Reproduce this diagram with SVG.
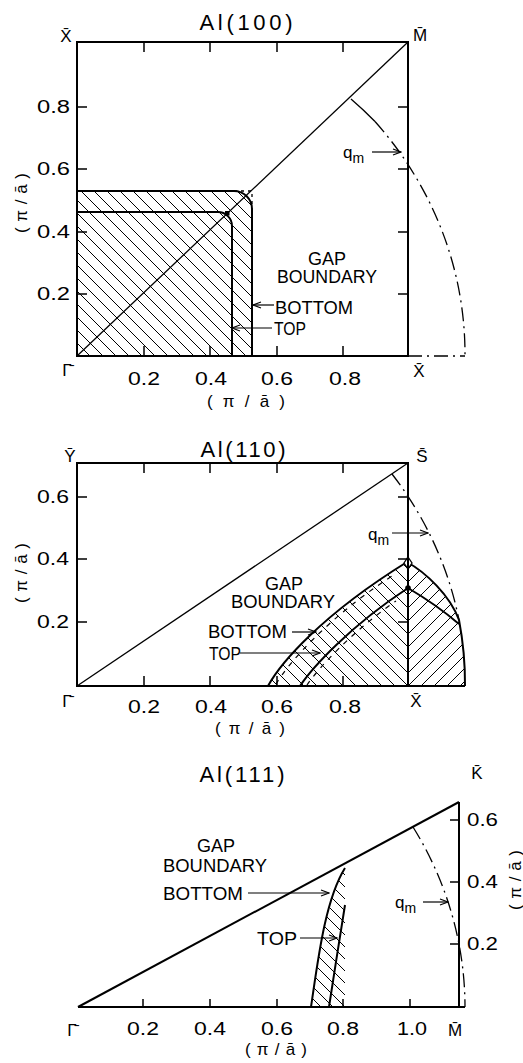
<svg xmlns="http://www.w3.org/2000/svg" width="523" height="1063" viewBox="0 0 523 1063">
<style>
text{font-family:"Liberation Sans",Arial,sans-serif;fill:#000}
.t{font-size:18px}
.n{font-size:18px}
.ax{font-size:17px}
.ttl{font-size:22px}
.pt{font-size:17px}
.fr{fill:none;stroke:#000;stroke-width:2}
.ln{fill:none;stroke:#000;stroke-width:1.3}
.bd{fill:none;stroke:#000;stroke-width:2}
.tk{fill:none;stroke:#000;stroke-width:1.5}
.dd{fill:none;stroke:#000;stroke-width:1.3;stroke-dasharray:14 5 2 5}
.ds{fill:none;stroke:#000;stroke-width:1.3;stroke-dasharray:3 4}
.dt{fill:none;stroke:#000;stroke-width:1.2;stroke-dasharray:5 6}
.ar{fill:none;stroke:#000;stroke-width:1.2;marker-end:url(#ah)}
</style>
<defs>
<marker id="ah" markerWidth="10" markerHeight="8" refX="9" refY="4" orient="auto" markerUnits="userSpaceOnUse"><path d="M1,1 L9,4 L1,7" fill="none" stroke="#000" stroke-width="1.2"/></marker>
<pattern id="hb1" patternUnits="userSpaceOnUse" x="77" y="356" width="13" height="13"><path d="M-1,-1 L14,14 M-1,12 L1,14 M12,-1 L14,1" stroke="#000" stroke-width="1"/></pattern>
<pattern id="hb2" patternUnits="userSpaceOnUse" x="408" y="686" width="13" height="13"><path d="M-1,-1 L14,14 M-1,12 L1,14 M12,-1 L14,1" stroke="#000" stroke-width="1"/></pattern>
<pattern id="hf2" patternUnits="userSpaceOnUse" x="408" y="686" width="13" height="13"><path d="M-1,14 L14,-1 M-1,1 L1,-1 M12,14 L14,12" stroke="#000" stroke-width="1"/></pattern>
<pattern id="hb3" patternUnits="userSpaceOnUse" x="345" y="1007" width="12" height="12"><path d="M-1,-1 L13,13 M-1,11 L1,13 M11,-1 L13,1" stroke="#000" stroke-width="1"/></pattern>
<clipPath id="c2"><path d="M268,686 C280,664 320,616 407,562 C425,572 450,595 459,620 A388,363 0 0 1 465,686 Z"/></clipPath>
</defs>

<!-- Panel Al(100) -->
<g id="panel-100">
<text class="ttl" x="246" y="30" text-anchor="middle" textLength="93" lengthAdjust="spacing">Al(100)</text>
<path class="fr" d="M77,42 H408 V356 H77 Z"/>
<path class="tk" d="M77,107 h10 M77,169 h10 M77,232 h10 M77,294 h10 M408,107 h-10 M408,169 h-10 M408,232 h-10 M408,294 h-10 M144,42 v10 M210,42 v10 M277,42 v10 M343,42 v10 M144,356 v-10 M210,356 v-10 M277,356 v-10 M343,356 v-10"/>
<g id="hatch-100">
<path d="M77,356 V191 H234 A18,18 0 0 1 252,209 V356 Z" fill="url(#hb1)" stroke="none"/>
<path class="bd" d="M77,191 H234 A18,18 0 0 1 252,209 V356"/>
<path class="bd" d="M77,212 H218 A14,14 0 0 1 232,226 V356"/>
<path class="ds" d="M234,191 H252 V209"/>
<rect x="225" y="211" width="4.5" height="4.5" fill="#000"/>
</g>
<path class="ln" d="M77,356 L408,42"/>
<path class="ln" d="M351,99 A388,363 0 0 1 375,121.5"/>
<path class="dd" d="M375,121.5 A388,363 0 0 1 465,356"/>
<path class="dd" d="M408,356 H465"/>
<text class="pt" x="66" y="42" text-anchor="middle">X̄</text>
<text class="pt" x="420" y="41" text-anchor="middle">M̄</text>
<text class="pt" x="67" y="376" text-anchor="middle">Γ̄</text>
<text class="pt" x="419" y="377" text-anchor="middle">X̄</text>
<text class="n" x="70" y="113" text-anchor="end" textLength="33" lengthAdjust="spacingAndGlyphs">0.8</text>
<text class="n" x="70" y="175" text-anchor="end" textLength="33" lengthAdjust="spacingAndGlyphs">0.6</text>
<text class="n" x="70" y="238" text-anchor="end" textLength="33" lengthAdjust="spacingAndGlyphs">0.4</text>
<text class="n" x="70" y="300" text-anchor="end" textLength="33" lengthAdjust="spacingAndGlyphs">0.2</text>
<text class="n" x="144" y="385" text-anchor="middle" textLength="32" lengthAdjust="spacingAndGlyphs">0.2</text>
<text class="n" x="211" y="385" text-anchor="middle" textLength="32" lengthAdjust="spacingAndGlyphs">0.4</text>
<text class="n" x="277" y="385" text-anchor="middle" textLength="32" lengthAdjust="spacingAndGlyphs">0.6</text>
<text class="n" x="345" y="385" text-anchor="middle" textLength="32" lengthAdjust="spacingAndGlyphs">0.8</text>
<text class="ax" x="246" y="407" text-anchor="middle" textLength="78" lengthAdjust="spacing">(π/ā)</text>
<text class="ax" transform="translate(27,203) rotate(-90)" text-anchor="middle" textLength="60" lengthAdjust="spacing">(π/ā)</text>
<text class="t" x="327" y="265" text-anchor="middle">GAP</text>
<text class="t" x="327" y="283" text-anchor="middle" textLength="100" lengthAdjust="spacingAndGlyphs">BOUNDARY</text>
<text class="t" x="275" y="314" textLength="78" lengthAdjust="spacingAndGlyphs">BOTTOM</text>
<text class="t" x="274" y="335" textLength="32" lengthAdjust="spacingAndGlyphs">TOP</text>
<text class="pt" x="343" y="158">q<tspan font-size="14" dy="5">m</tspan></text>
</g>

<!-- Panel Al(110) -->
<g id="panel-110">
<text class="ttl" x="243" y="457" text-anchor="middle" textLength="85" lengthAdjust="spacing">Al(110)</text>
<g id="hatch-110">
<g clip-path="url(#c2)">
<rect x="260" y="550" width="148" height="140" fill="url(#hb2)"/>
<rect x="408" y="550" width="60" height="140" fill="url(#hf2)"/>
</g>
<path class="bd" d="M268,686 C280,664 320,616 407,562 C425,572 450,595 459,620 A388,363 0 0 1 465,686"/>
<path class="bd" d="M300,686 C312,668 350,626 408,588 C425,598 445,612 459,624"/>
<path class="dt" d="M276,684 C288,664 326,619 392,576"/>
<path class="dt" d="M307,685 C319,667 354,630 396,601"/>
<path d="M408,557 L412,563 L408,569 L404,563 Z" fill="#fff" stroke="#000" stroke-width="1.3"/>
<circle cx="408" cy="588" r="2.8" fill="#000"/>
</g>
<path class="fr" d="M77,463 H408 V686 H77 Z"/>
<path class="fr" d="M408,686 H465"/>
<path class="tk" d="M77,497 h10 M77,559 h10 M77,622 h10 M408,497 h-10 M408,559 h-10 M408,622 h-10 M144,463 v10 M210,463 v10 M277,463 v10 M343,463 v10 M144,686 v-10 M210,686 v-10 M277,686 v-10 M343,686 v-10"/>
<path class="ln" d="M77,686 L408,463"/>
<path class="dd" d="M392,474 A388,363 0 0 1 459,620"/>
<text class="pt" x="70" y="462" text-anchor="middle">Ȳ</text>
<text class="pt" x="422" y="462" text-anchor="middle">S̄</text>
<text class="pt" x="67" y="707" text-anchor="middle">Γ̄</text>
<text class="pt" x="416" y="707" text-anchor="middle">X̄</text>
<text class="n" x="69" y="503" text-anchor="end" textLength="32" lengthAdjust="spacingAndGlyphs">0.6</text>
<text class="n" x="69" y="565" text-anchor="end" textLength="32" lengthAdjust="spacingAndGlyphs">0.4</text>
<text class="n" x="69" y="628" text-anchor="end" textLength="32" lengthAdjust="spacingAndGlyphs">0.2</text>
<text class="n" x="144" y="713" text-anchor="middle" textLength="32" lengthAdjust="spacingAndGlyphs">0.2</text>
<text class="n" x="211" y="713" text-anchor="middle" textLength="32" lengthAdjust="spacingAndGlyphs">0.4</text>
<text class="n" x="277" y="713" text-anchor="middle" textLength="32" lengthAdjust="spacingAndGlyphs">0.6</text>
<text class="n" x="345" y="713" text-anchor="middle" textLength="32" lengthAdjust="spacingAndGlyphs">0.8</text>
<text class="ax" x="250" y="734" text-anchor="middle" textLength="70" lengthAdjust="spacing">(π/ā)</text>
<text class="ax" transform="translate(27,573) rotate(-90)" text-anchor="middle" textLength="60" lengthAdjust="spacing">(π/ā)</text>
<text class="t" x="284" y="590" text-anchor="middle">GAP</text>
<text class="t" x="283" y="608" text-anchor="middle" textLength="104" lengthAdjust="spacingAndGlyphs">BOUNDARY</text>
<text class="t" x="208" y="638" textLength="79" lengthAdjust="spacingAndGlyphs">BOTTOM</text>
<text class="t" x="209" y="660" textLength="32" lengthAdjust="spacingAndGlyphs">TOP</text>
<text class="pt" x="368" y="540">q<tspan font-size="14" dy="5">m</tspan></text>
</g>

<!-- Panel Al(111) -->
<g id="panel-111">
<text class="ttl" x="242" y="782" text-anchor="middle" textLength="85" lengthAdjust="spacing">Al(111)</text>
<g id="hatch-111">
<path d="M311,1007 C318,960 325,900 345,868 V1007 Z" fill="url(#hb3)" stroke="none"/>
<path class="bd" d="M311,1007 C318,960 325,900 345,868"/>
<path class="bd" d="M329,1007 C334,975 340,935 345,905"/>
</g>
<path class="fr" d="M78,1007 H465 M459,802 V1007"/>
<path class="fr" d="M78,1007 L459,802"/>
<path class="tk" d="M459,820 h-9 M459,882 h-9 M459,944 h-9 M143,1007 v-8 M210,1007 v-8 M277,1007 v-8 M343,1007 v-8 M410,1007 v-8"/>
<path class="dd" d="M413,827 A387,360 0 0 1 465,1007"/>
<text class="pt" x="477" y="779" text-anchor="middle">K̄</text>
<text class="pt" x="72" y="1036" text-anchor="middle">Γ̄</text>
<text class="pt" x="455" y="1036" text-anchor="middle">M̄</text>
<text class="n" x="467" y="826" textLength="31" lengthAdjust="spacingAndGlyphs">0.6</text>
<text class="n" x="467" y="888" textLength="31" lengthAdjust="spacingAndGlyphs">0.4</text>
<text class="n" x="467" y="950" textLength="31" lengthAdjust="spacingAndGlyphs">0.2</text>
<text class="n" x="143" y="1035" text-anchor="middle" textLength="32" lengthAdjust="spacingAndGlyphs">0.2</text>
<text class="n" x="210" y="1035" text-anchor="middle" textLength="32" lengthAdjust="spacingAndGlyphs">0.4</text>
<text class="n" x="277" y="1035" text-anchor="middle" textLength="32" lengthAdjust="spacingAndGlyphs">0.6</text>
<text class="n" x="343" y="1035" text-anchor="middle" textLength="32" lengthAdjust="spacingAndGlyphs">0.8</text>
<text class="n" x="412" y="1035" text-anchor="middle" textLength="30" lengthAdjust="spacingAndGlyphs">1.0</text>
<text class="ax" x="276" y="1055" text-anchor="middle" textLength="62" lengthAdjust="spacing">(π/ā)</text>
<text class="ax" transform="translate(521,880) rotate(-90)" text-anchor="middle" textLength="60" lengthAdjust="spacing">(π/ā)</text>
<text class="t" x="216" y="852" text-anchor="middle">GAP</text>
<text class="t" x="163" y="872" textLength="104" lengthAdjust="spacingAndGlyphs">BOUNDARY</text>
<text class="t" x="163" y="900" textLength="80" lengthAdjust="spacingAndGlyphs">BOTTOM</text>
<text class="t" x="257" y="945" textLength="40" lengthAdjust="spacingAndGlyphs">TOP</text>
<text class="pt" x="395" y="908">q<tspan font-size="14" dy="5">m</tspan></text>
</g>

<g id="connectors">
<path class="ar" d="M274,305 H253"/>
<path class="ar" d="M272,328 H232"/>
<path class="ar" d="M372,152 H401"/>
<path class="ar" d="M292,632 H316"/>
<path class="ar" d="M240,653 H320"/>
<path class="ar" d="M392,533 H428"/>
<path class="ar" d="M248,893 H329"/>
<path class="ar" d="M300,938 H337"/>
<path class="ar" d="M423,902 H448"/>
</g>
</svg>
